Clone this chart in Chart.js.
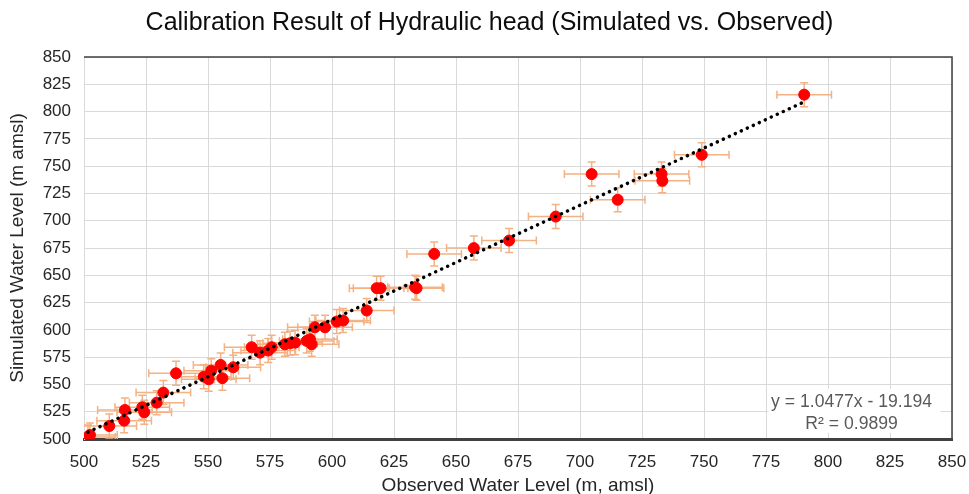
<!DOCTYPE html>
<html lang="en">
<head>
<meta charset="UTF-8">
<title>Calibration Result of Hydraulic head</title>
<script src="https://cdn.jsdelivr.net/npm/chart.js"></script>
<style>
  html, body { margin: 0; padding: 0; background: #fff; }
  #wrap { width: 969px; height: 494px; }
</style>
</head>
<body>
<div id="wrap"><canvas id="calib-chart"></canvas></div>
<script>
// observed vs simulated heads (m, amsl)
const observed = [
    501.6, 502.4, 510.2, 516.2, 516.5, 523.5, 524.3, 529.3, 532.0, 537.1,
    548.3, 550.3, 551.3, 555.1, 555.8, 560.2, 567.6, 571.0, 574.3, 575.7,
    581.0, 583.1, 585.1, 589.8, 591.1, 591.8, 593.1, 597.2, 601.9, 604.5,
    614.0, 618.0, 619.6, 633.5, 634.1, 641.2, 657.2, 671.4, 690.2, 704.7,
    715.2, 732.9, 733.2, 749.1, 790.4
];
const simulated = [
    501.8, 503.7, 511.9, 516.8, 526.6, 529.1, 524.5, 533.3, 542.5, 560.2,
    557.1, 554.7, 562.6, 567.9, 555.7, 565.7, 584.1, 579.1, 581.0, 584.1,
    586.8, 587.7, 588.3, 589.9, 591.4, 586.8, 602.4, 602.4, 607.6, 608.5,
    617.7, 638.2, 638.2, 639.1, 638.2, 669.6, 674.9, 681.8, 703.8, 742.7,
    719.2, 742.7, 736.6, 760.4, 815.5
];
const errObserved = 11;
const errSimulated = 11;

// Excel linear trendline as printed on the chart
const slope = 1.0477;
const intercept = -19.194;
const trendText = ["y = 1.0477x - 19.194", "R\u00b2 = 0.9899"];

const axisMin = 500;
const axisMax = 850;
const axisStep = 25;

const font = "'Liberation Sans', Arial, sans-serif";

const xMin = Math.min(...observed);
const xMax = Math.max(...observed);
const trendPoints = [
    { x: xMin, y: slope * xMin + intercept },
    { x: xMax, y: slope * xMax + intercept }
];

const errorBars = {
    id: 'errorBars',
    beforeDatasetsDraw(chart) {
        const { ctx, chartArea: a, scales: { x, y } } = chart;
        ctx.save();
        ctx.beginPath();
        ctx.rect(a.left, a.top, a.right - a.left, a.bottom - a.top);
        ctx.clip();
        ctx.strokeStyle = '#f4b183';
        ctx.lineWidth = 1.5;
        const cap = 4;
        observed.forEach((o, i) => {
            const s = simulated[i];
            const px = x.getPixelForValue(o);
            const py = y.getPixelForValue(s);
            const x1 = x.getPixelForValue(o - errObserved);
            const x2 = x.getPixelForValue(o + errObserved);
            const y1 = y.getPixelForValue(s - errSimulated);
            const y2 = y.getPixelForValue(s + errSimulated);
            ctx.beginPath();
            ctx.moveTo(x1, py); ctx.lineTo(x2, py);
            ctx.moveTo(x1, py - cap); ctx.lineTo(x1, py + cap);
            ctx.moveTo(x2, py - cap); ctx.lineTo(x2, py + cap);
            ctx.moveTo(px, y1); ctx.lineTo(px, y2);
            ctx.moveTo(px - cap, y1); ctx.lineTo(px + cap, y1);
            ctx.moveTo(px - cap, y2); ctx.lineTo(px + cap, y2);
            ctx.stroke();
        });
        ctx.restore();

        // top and right frame of the plot area
        ctx.save();
        ctx.strokeStyle = '#404040';
        ctx.lineWidth = 1.5;
        ctx.beginPath();
        ctx.moveTo(a.left, a.top);
        ctx.lineTo(a.right, a.top);
        ctx.lineTo(a.right, a.bottom);
        ctx.stroke();
        ctx.restore();
    },
    afterDatasetsDraw(chart) {
        const { ctx, scales: { x, y } } = chart;
        const cx = x.getPixelForValue(809.5);
        const top = y.getPixelForValue(546);
        ctx.save();
        ctx.fillStyle = '#fff';
        ctx.fillRect(x.getPixelForValue(776), top, 172, 44);
        ctx.fillStyle = '#595959';
        ctx.font = "17.6px " + font;
        ctx.textAlign = 'center';
        ctx.textBaseline = 'middle';
        ctx.fillText(trendText[0], cx, top + 13);
        ctx.fillText(trendText[1], cx, top + 35);
        ctx.restore();
    }
};

const chart = new Chart(document.getElementById('calib-chart'), {
    type: 'scatter',
    data: {
        datasets: [
            {
                label: 'Trendline',
                type: 'line',
                data: trendPoints,
                borderColor: '#000',
                borderWidth: 3.5,
                borderDash: [0.1, 6.5],
                borderCapStyle: 'round',
                pointRadius: 0,
                fill: false,
                order: 0
            },
            {
                label: 'Hydraulic head',
                data: observed.map((o, i) => ({ x: o, y: simulated[i] })),
                backgroundColor: '#ff0000',
                borderColor: '#ff0000',
                pointRadius: 5.5,
                pointHoverRadius: 5.5,
                order: 1
            }
        ]
    },
    options: {
        responsive: true,
        maintainAspectRatio: false,
        animation: false,
        layout: { padding: { left: 10, right: 0, top: 0, bottom: 0 } },
        plugins: {
            legend: { display: false },
            tooltip: { enabled: false },
            title: {
                display: true,
                text: 'Calibration Result of Hydraulic head (Simulated vs. Observed)',
                color: '#0d0d0d',
                font: { family: font, size: 25, weight: 'normal' },
                padding: { top: 8, bottom: 19 }
            }
        },
        scales: {
            x: {
                type: 'linear',
                min: axisMin,
                max: axisMax,
                afterFit: s => { s.height = 55; s.paddingLeft = 0; s.paddingRight = 17; },
                ticks: { stepSize: axisStep, color: '#262626', font: { family: font, size: 17 }, padding: 13, maxRotation: 0 },
                grid: { color: '#d9d9d9', lineWidth: 1, drawTicks: false },
                border: { color: '#404040', width: 3 },
                title: { display: true, text: 'Observed Water Level (m, amsl)', color: '#262626', font: { family: font, size: 19 }, padding: { top: 0, bottom: -3.5 } }
            },
            y: {
                type: 'linear',
                min: axisMin,
                max: axisMax,
                afterFit: s => { s.width = 74; },
                ticks: { stepSize: axisStep, color: '#262626', font: { family: font, size: 17 }, padding: 13 },
                grid: { color: '#d9d9d9', lineWidth: 1, drawTicks: false },
                border: { color: '#d9d9d9', width: 1 },
                title: { display: true, text: 'Simulated Water Level (m amsl)', color: '#262626', font: { family: font, size: 19 }, padding: { top: -3.5, bottom: 0 } }
            }
        }
    },
    plugins: [errorBars]
});
</script>
</body>
</html>
